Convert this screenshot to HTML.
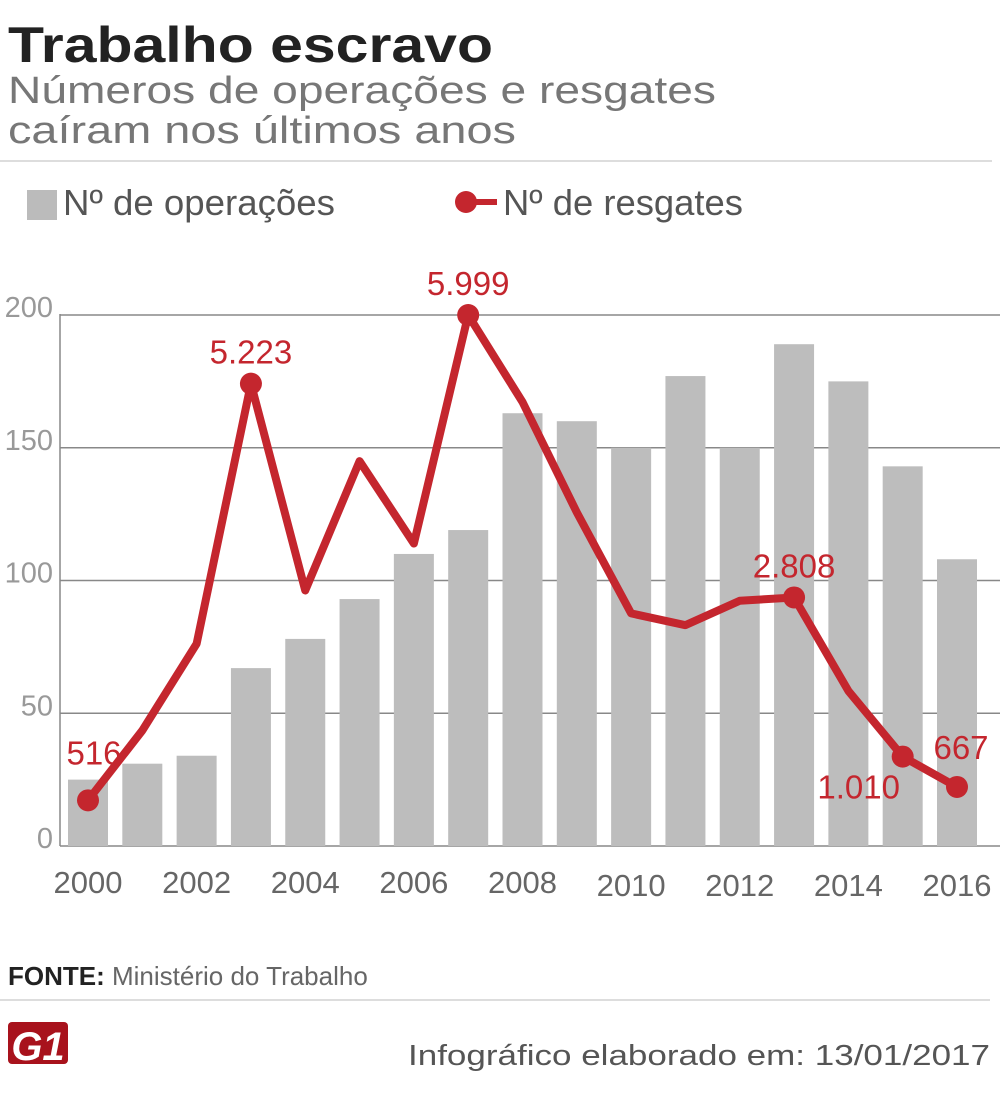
<!DOCTYPE html>
<html><head><meta charset="utf-8"><style>
html,body{margin:0;padding:0;background:#fff;}
svg{display:block;font-family:"Liberation Sans",sans-serif;}
</style></head><body>
<svg id="chart" width="1000" height="1097" viewBox="0 0 1000 1097">
<text x="8" y="62" font-size="50" font-weight="bold" fill="#222" textLength="485" lengthAdjust="spacingAndGlyphs">Trabalho escravo</text>
<text x="8" y="103" font-size="38" fill="#777" textLength="708" lengthAdjust="spacingAndGlyphs">Números de operações e resgates</text>
<text x="8" y="143" font-size="38" fill="#777" textLength="508" lengthAdjust="spacingAndGlyphs">caíram nos últimos anos</text>
<line x1="0" y1="161" x2="992" y2="161" stroke="#ddd" stroke-width="2"/>
<g>
<rect x="27" y="190" width="30" height="30" fill="#bbb"/>
<text x="63" y="215" font-size="36" fill="#555" textLength="272" lengthAdjust="spacingAndGlyphs">Nº de operações</text>
<line x1="465" y1="202" x2="497" y2="202" stroke="#c4262e" stroke-width="6"/>
<circle cx="466" cy="202" r="11" fill="#c4262e"/>
<text x="503" y="215" font-size="36" fill="#555" textLength="240" lengthAdjust="spacingAndGlyphs">Nº de resgates</text>
</g>
<g id="grid"></g><g id="bars"></g><g id="line"></g><g id="labels"></g>
<line x1="60" y1="314" x2="60" y2="846" stroke="#888" stroke-width="1.5"/>
<text x="8" y="985" font-size="26" fill="#333"><tspan font-weight="bold" fill="#222">FONTE:</tspan> <tspan fill="#666">Ministério do Trabalho</tspan></text>
<line x1="0" y1="1000" x2="990" y2="1000" stroke="#ddd" stroke-width="2"/>
<g>
<rect x="8" y="1022" width="60" height="42" rx="4" fill="#a8121c"/>
<text x="38" y="1060" font-size="40" font-weight="bold" font-style="italic" fill="#fff" text-anchor="middle">G1</text>
</g>
<text x="990" y="1065" font-size="29" fill="#555" text-anchor="end" textLength="582" lengthAdjust="spacingAndGlyphs">Infográfico elaborado em: 13/01/2017</text>
</svg>
<script>
const years=[2000,2001,2002,2003,2004,2005,2006,2007,2008,2009,2010,2011,2012,2013,2014,2015,2016];
const operations=[25,31,34,67,78,93,110,119,163,160,150,177,150,189,175,143,108];
const rescues=[516,1305,2285,5223,2887,4348,3417,5999,5016,3769,2628,2495,2771,2808,1752,1010,667];
const labelYears=[2000,2003,2007,2013,2015,2016];
const yTicks=[0,50,100,150,200];
const xTickYears=[2000,2002,2004,2006,2008,2010,2012,2014,2016];
const NS="http://www.w3.org/2000/svg";
const y0=846,y1=315,maxOps=200,maxRes=5999;
function yOps(v){return y0-(v/maxOps)*(y0-y1);}
function yRes(v){return y0-(v/maxRes)*(y0-y1);}
function xC(i){return 88+i*(957-88)/16;}
function mk(tag,attrs,parent){const e=document.createElementNS(NS,tag);for(const k in attrs)e.setAttribute(k,attrs[k]);document.getElementById(parent).appendChild(e);return e;}
yTicks.forEach(t=>{
 const l=mk('line',{x1:60,y1:yOps(t),x2:1000,y2:yOps(t),stroke:'#888','stroke-width':1.5},'grid');
 
 
 const tx=mk('text',{x:53,y:yOps(t)+2,'font-size':29,fill:'#999','text-anchor':'end'},'grid');tx.textContent=t;
 
 
});
operations.forEach((v,i)=>{
 const r=mk('rect',{x:xC(i)-20,y:yOps(v),width:40,height:y0-yOps(v),fill:'#bdbdbd'},'bars');
 
 
});
xTickYears.forEach(yr=>{
 const i=years.indexOf(yr);
 const tx=mk('text',{x:xC(i),y:yr>=2010?896:893,'font-size':31,fill:'#666','text-anchor':'middle'},'labels');tx.textContent=yr;
 
 
});
const pts=rescues.map((v,i)=>xC(i)+','+yRes(v)).join(' ');
const pl=mk('polyline',{points:pts,fill:'none',stroke:'#c4262e','stroke-width':8,'stroke-linejoin':'round','stroke-linecap':'round'},'line');


labelYears.forEach(yr=>{
 const i=years.indexOf(yr),v=rescues[i];
 const c=mk('circle',{cx:xC(i),cy:yRes(v),r:11,fill:'#c4262e'},'line');
 
 
 let lx=xC(i),ly=yRes(v)-20;
 if(yr===2000){ly=yRes(v)-36;lx=xC(i)+6;}
 if(yr===2015){lx=xC(i)-44;ly=yRes(v)+42;}
 if(yr===2016){lx=xC(i)+4;ly=yRes(v)-28;}
 const tx=mk('text',{x:lx,y:ly,'font-size':33,fill:'#c4262e','text-anchor':'middle'},'labels');
 tx.textContent=v.toLocaleString('de-DE');
 
 
});
</script>
</body></html>
